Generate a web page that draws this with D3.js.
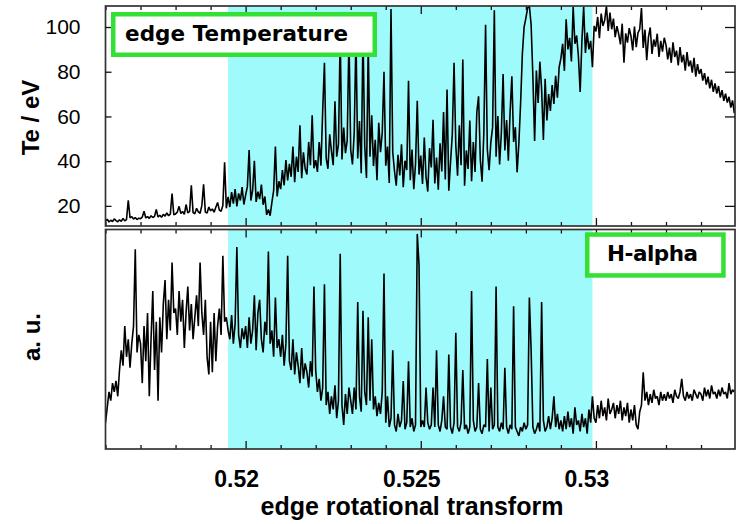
<!DOCTYPE html>
<html>
<head>
<meta charset="utf-8">
<script src="https://cdn.jsdelivr.net/npm/d3@7"></script>
<style>
body { margin: 0; background: #fff; }
svg text { font-family: "Liberation Sans", Arial, Helvetica, sans-serif; fill: #000; }
</style>
</head>
<body>
<div id="chart"></div>
<script>
/*
*/
var xStart = 0.516, xStep = 0.00005;
var shadeRange = [0.5195, 0.5299];
var xTicks = [0.52, 0.525, 0.53];
var teTicks = [20, 40, 60, 80, 100];

// edge Te in eV, one row = 0.001 of rotational transform
var teValues = [
  13.2,14.0,12.8,13.6,13.0,14.2,13.4,12.9,13.8,13.1,14.4,13.3,13.9,22.5,14.6,15.2,14.1,14.8,13.9,14.5,
  14.3,15.0,17.6,14.6,15.2,14.4,15.6,14.8,15.3,18.4,15.0,15.8,14.9,16.2,15.4,16.9,15.6,16.3,25.5,16.0,
  16.4,17.2,19.8,16.6,17.5,16.2,20.6,16.9,17.4,29.2,17.0,16.5,18.9,17.3,16.7,20.1,29.6,17.2,16.8,19.5,
  17.8,18.6,17.2,19.4,21.5,18.1,17.6,20.2,39.5,18.9,24.0,19.5,26.2,21.0,27.5,19.8,25.6,22.4,28.4,20.6,
  24.8,28.6,45.0,22.4,27.0,40.2,21.8,26.4,23.0,29.5,20.5,24.2,16.0,18.4,15.6,21.6,26.8,46.5,24.2,31.0,
  27.5,36.0,29.2,40.5,31.4,38.8,33.0,46.5,30.6,42.0,35.2,56.0,32.4,44.0,36.6,34.0,48.6,38.2,60.5,36.8,
  40.5,35.2,48.6,38.0,62.5,84.0,41.2,36.6,52.0,44.5,38.2,66.8,42.0,47.5,96.5,40.8,55.0,43.6,49.2,95.5,
  45.0,38.5,52.6,96.0,41.2,58.0,34.6,98.0,46.8,32.5,92.0,42.0,60.5,37.8,49.6,31.5,57.2,44.0,52.8,80.0,
  38.0,46.5,30.2,108.0,44.0,35.5,29.0,42.8,33.6,47.5,28.4,40.2,36.0,76.0,31.5,45.2,27.5,38.8,67.0,34.0,
  42.5,29.8,50.6,33.0,26.4,45.8,37.2,58.5,30.0,41.6,27.2,48.0,35.4,62.0,31.8,72.0,26.8,39.6,52.0,84.0,
  47.0,33.5,56.0,38.2,85.5,29.0,44.8,36.5,58.2,31.0,48.6,35.2,62.0,69.0,40.5,30.8,52.6,101.0,45.2,36.0,
  48.5,55.0,107.5,42.0,60.2,38.5,52.6,79.0,44.8,58.4,40.2,62.0,78.0,48.6,55.2,35.0,48.0,66.0,88.0,100.0,
  104.0,108.5,109.5,101.0,78.0,49.0,80.5,66.0,84.5,72.0,49.5,76.8,58.2,70.0,62.5,74.0,65.6,78.2,68.4,82.0,
  86.0,92.5,80.4,103.5,90.0,95.2,84.6,109.0,92.5,96.2,86.8,71.0,94.0,109.0,88.4,97.5,90.0,93.8,82.0,100.5,
  98.0,104.5,95.0,106.0,100.5,103.0,109.5,98.2,106.5,99.0,103.8,95.5,100.4,96.8,92.2,101.5,84.0,97.2,93.0,99.5,
  96.0,89.5,100.2,91.0,97.4,99.0,108.5,90.6,98.8,85.2,95.6,99.8,88.0,94.4,91.2,97.0,86.6,93.8,89.0,95.2,
  92.0,85.5,90.8,84.0,93.2,86.6,89.4,82.8,91.0,84.2,87.6,80.5,88.8,82.4,85.0,79.6,86.2,77.8,83.4,79.0,
  81.2,76.0,79.4,74.2,77.8,72.6,76.4,71.0,74.8,70.2,73.6,68.4,71.8,67.0,70.2,66.2,68.8,64.0,67.2,61.5
];

// H-alpha, arbitrary units (0..10 over the panel)
var haValues = [
  1.2,1.9,2.6,2.2,3.0,2.6,3.1,2.4,3.6,4.5,3.8,5.6,4.2,5.0,3.7,4.8,5.6,9.1,4.4,5.2,
  4.8,3.0,5.6,4.0,6.2,2.4,5.0,7.2,3.6,5.8,2.2,6.0,4.4,6.6,7.7,5.0,6.8,5.4,8.5,6.2,
  6.4,5.2,7.2,5.8,6.8,4.6,6.2,7.4,5.4,6.6,5.0,6.0,7.0,5.6,8.5,6.2,5.2,6.8,4.2,3.4,
  5.8,3.5,6.2,4.0,5.6,6.4,5.2,8.8,5.8,6.0,5.4,5.0,6.1,4.8,5.7,9.2,5.2,4.6,5.5,5.0,
  5.6,4.6,6.0,4.8,5.4,7.0,4.5,6.2,6.8,5.0,4.4,5.8,5.2,9.0,4.8,5.4,4.2,6.9,4.6,5.0,
  4.2,5.2,3.8,4.8,8.8,4.0,3.6,5.0,3.4,4.4,3.8,3.0,4.6,3.2,3.9,3.5,2.8,4.0,3.3,7.4,
  3.6,2.6,3.2,2.2,2.8,7.5,2.0,2.6,1.6,2.4,1.8,2.9,1.4,2.2,8.9,2.0,1.1,2.5,1.6,2.8,
  2.2,1.6,2.8,1.8,6.7,2.4,1.7,6.3,2.6,2.0,6.0,2.2,5.0,1.8,2.4,1.5,2.1,1.6,2.6,8.0,
  1.2,2.4,1.0,1.4,4.5,1.1,0.8,1.6,1.0,1.3,3.1,0.9,1.2,4.0,1.0,1.4,0.8,1.1,9.8,8.4,
  1.0,1.3,1.0,2.8,1.2,0.9,1.1,2.8,1.0,4.5,1.1,0.8,1.3,2.4,1.0,0.9,4.3,1.0,0.7,1.2,
  5.3,1.0,0.8,1.2,3.6,0.9,1.1,0.7,1.0,7.2,1.3,0.8,1.0,3.0,0.9,0.7,1.1,1.0,4.1,0.8,
  2.8,0.9,1.1,7.4,1.0,0.8,1.2,0.9,3.7,1.0,0.7,1.1,0.9,6.5,1.0,0.8,0.6,1.0,0.8,1.2,
  0.9,1.1,6.9,4.5,1.0,0.7,0.9,1.2,0.8,6.7,1.3,0.8,1.0,1.5,0.9,1.4,2.4,1.0,1.6,0.9,
  1.3,0.8,1.5,0.9,1.7,1.0,1.4,0.7,1.9,1.1,1.3,0.8,1.6,1.0,1.4,0.7,1.8,1.2,2.4,1.4,
  1.2,2.0,1.4,2.2,1.5,1.9,1.3,2.3,1.6,1.8,2.1,1.4,2.0,1.6,2.2,1.3,1.9,1.5,2.1,1.2,
  1.8,1.3,2.0,1.1,0.9,1.7,2.0,3.5,2.2,2.6,2.0,2.5,2.1,2.7,2.3,2.4,2.0,2.6,2.2,2.5,
  2.2,2.6,2.3,2.5,2.1,2.7,2.4,2.3,2.6,3.2,2.4,2.2,2.6,2.3,2.5,2.2,2.7,2.5,2.3,2.6,
  2.5,2.2,2.8,2.4,2.7,2.3,2.9,2.5,2.6,2.3,2.7,2.4,2.8,2.5,2.6,2.3,3.0,2.5,2.7,2.6
];

/*
LAYOUT
*/
var width = 736, height = 524;
var left = 105.5, right = 735;

var svg = d3.select("#chart").append("svg")
    .attr("width", width)
    .attr("height", height);

var x = d3.scaleLinear().domain([0.516, 0.53397]).range([left, right]);
var yTe = d3.scaleLinear().domain([11, 109.4]).range([226, 6]);
var yHa = d3.scaleLinear().domain([0, 10]).range([449, 229.5]);

var panels = [
  {id: "te", y: yTe, values: teValues, top: 6, bottom: 226},
  {id: "ha", y: yHa, values: haValues, top: 229.5, bottom: 449}
];

var minorTicks = d3.range(0.516, 0.5341, 0.001).filter(function(d) {
  return xTicks.every(function(t) { return Math.abs(t - d) > 1e-6; });
});

panels.forEach(function(p) {
  var g = svg.append("g");

  g.append("clipPath").attr("id", "clip-" + p.id)
    .append("rect")
      .attr("x", left).attr("y", p.top)
      .attr("width", right - left).attr("height", p.bottom - p.top);

  // shaded interval
  g.append("rect")
      .attr("x", x(shadeRange[0]))
      .attr("y", p.top)
      .attr("width", x(shadeRange[1]) - x(shadeRange[0]))
      .attr("height", p.bottom - p.top)
      .attr("fill", "#9ffbfb");

  var line = d3.line()
      .x(function(d, i) { return x(xStart + i * xStep); })
      .y(function(d) { return p.y(d); });

  g.append("path")
      .datum(p.values)
      .attr("clip-path", "url(#clip-" + p.id + ")")
      .attr("fill", "none")
      .attr("stroke", "#000")
      .attr("stroke-width", 1.6)
      .attr("stroke-linejoin", "bevel")
      .attr("d", line);

  // ticks pointing into the panel, top and bottom
  [[d3.axisTop, p.top], [d3.axisBottom, p.bottom]].forEach(function(a) {
    g.append("g").attr("transform", "translate(0," + a[1] + ")")
      .call(a[0](x).tickValues(minorTicks).tickSize(-4).tickFormat(""));
    g.append("g").attr("transform", "translate(0," + a[1] + ")")
      .call(a[0](x).tickValues(xTicks).tickSize(-8).tickFormat(""));
  });

  g.append("rect")
      .attr("x", left).attr("y", p.top)
      .attr("width", right - left).attr("height", p.bottom - p.top)
      .attr("fill", "none")
      .attr("stroke", "#333")
      .attr("stroke-width", 1.7);
});

svg.selectAll(".domain").remove();

// Te axis, left (labelled) and right
svg.append("g")
    .attr("transform", "translate(" + left + ",0)")
    .call(d3.axisLeft(yTe).tickValues(teTicks).tickSize(-6).tickPadding(25))
  .call(function(g) { g.select(".domain").remove(); })
  .selectAll("text")
    .style("font-size", "21px")
    .attr("fill", "#000");
svg.append("g")
    .attr("transform", "translate(" + right + ",0)")
    .call(d3.axisRight(yTe).tickValues(teTicks).tickSize(-10).tickFormat(""))
  .call(function(g) { g.select(".domain").remove(); });
svg.selectAll(".tick line").attr("stroke", "#111").attr("stroke-width", 1.3);

// x tick labels
svg.selectAll(".xlab")
    .data(xTicks)
  .enter().append("text")
    .attr("class", "xlab")
    .attr("x", function(d) { return x(d) - 9; })
    .attr("y", 487)
    .attr("text-anchor", "middle")
    .style("font-size", "23px")
    .style("font-weight", "bold")
    .text(function(d) { return String(d); });

svg.append("text")
    .attr("x", 412).attr("y", 515)
    .attr("text-anchor", "middle")
    .style("font-size", "25px")
    .style("font-weight", "bold")
    .text("edge rotational transform");

svg.append("text")
    .attr("transform", "translate(39,117.5) rotate(-90)")
    .attr("text-anchor", "middle")
    .style("font-size", "24px")
    .style("font-weight", "bold")
    .text("Te / eV");

svg.append("text")
    .attr("transform", "translate(40,337) rotate(-90)")
    .attr("text-anchor", "middle")
    .style("font-size", "24px")
    .style("font-weight", "bold")
    .text("a. u.");

// legend boxes
var legends = [
  {label: "edge Temperature", x0: 111, y0: 12, x1: 377, y1: 57, tx: 125, ty: 40.5, tw: 223},
  {label: "H-alpha", x0: 585, y0: 232.3, x1: 725.7, y1: 277.7, tx: 607, ty: 260.5, tw: 91}
];
legends.forEach(function(l) {
  svg.append("rect")
      .attr("x", l.x0 + 2.25).attr("y", l.y0 + 2.25)
      .attr("width", l.x1 - l.x0 - 4.5).attr("height", l.y1 - l.y0 - 4.5)
      .attr("fill", "#fff")
      .attr("stroke", "#33e033")
      .attr("stroke-width", 4.5);
  svg.append("text")
      .attr("x", l.tx).attr("y", l.ty)
      .attr("textLength", l.tw)
      .attr("lengthAdjust", "spacing")
      .style("font-family", "'DejaVu Sans', 'Liberation Sans', sans-serif")
      .style("font-size", "21.5px")
      .style("font-weight", "bold")
      .text(l.label);
});
</script>
</body>
</html>
